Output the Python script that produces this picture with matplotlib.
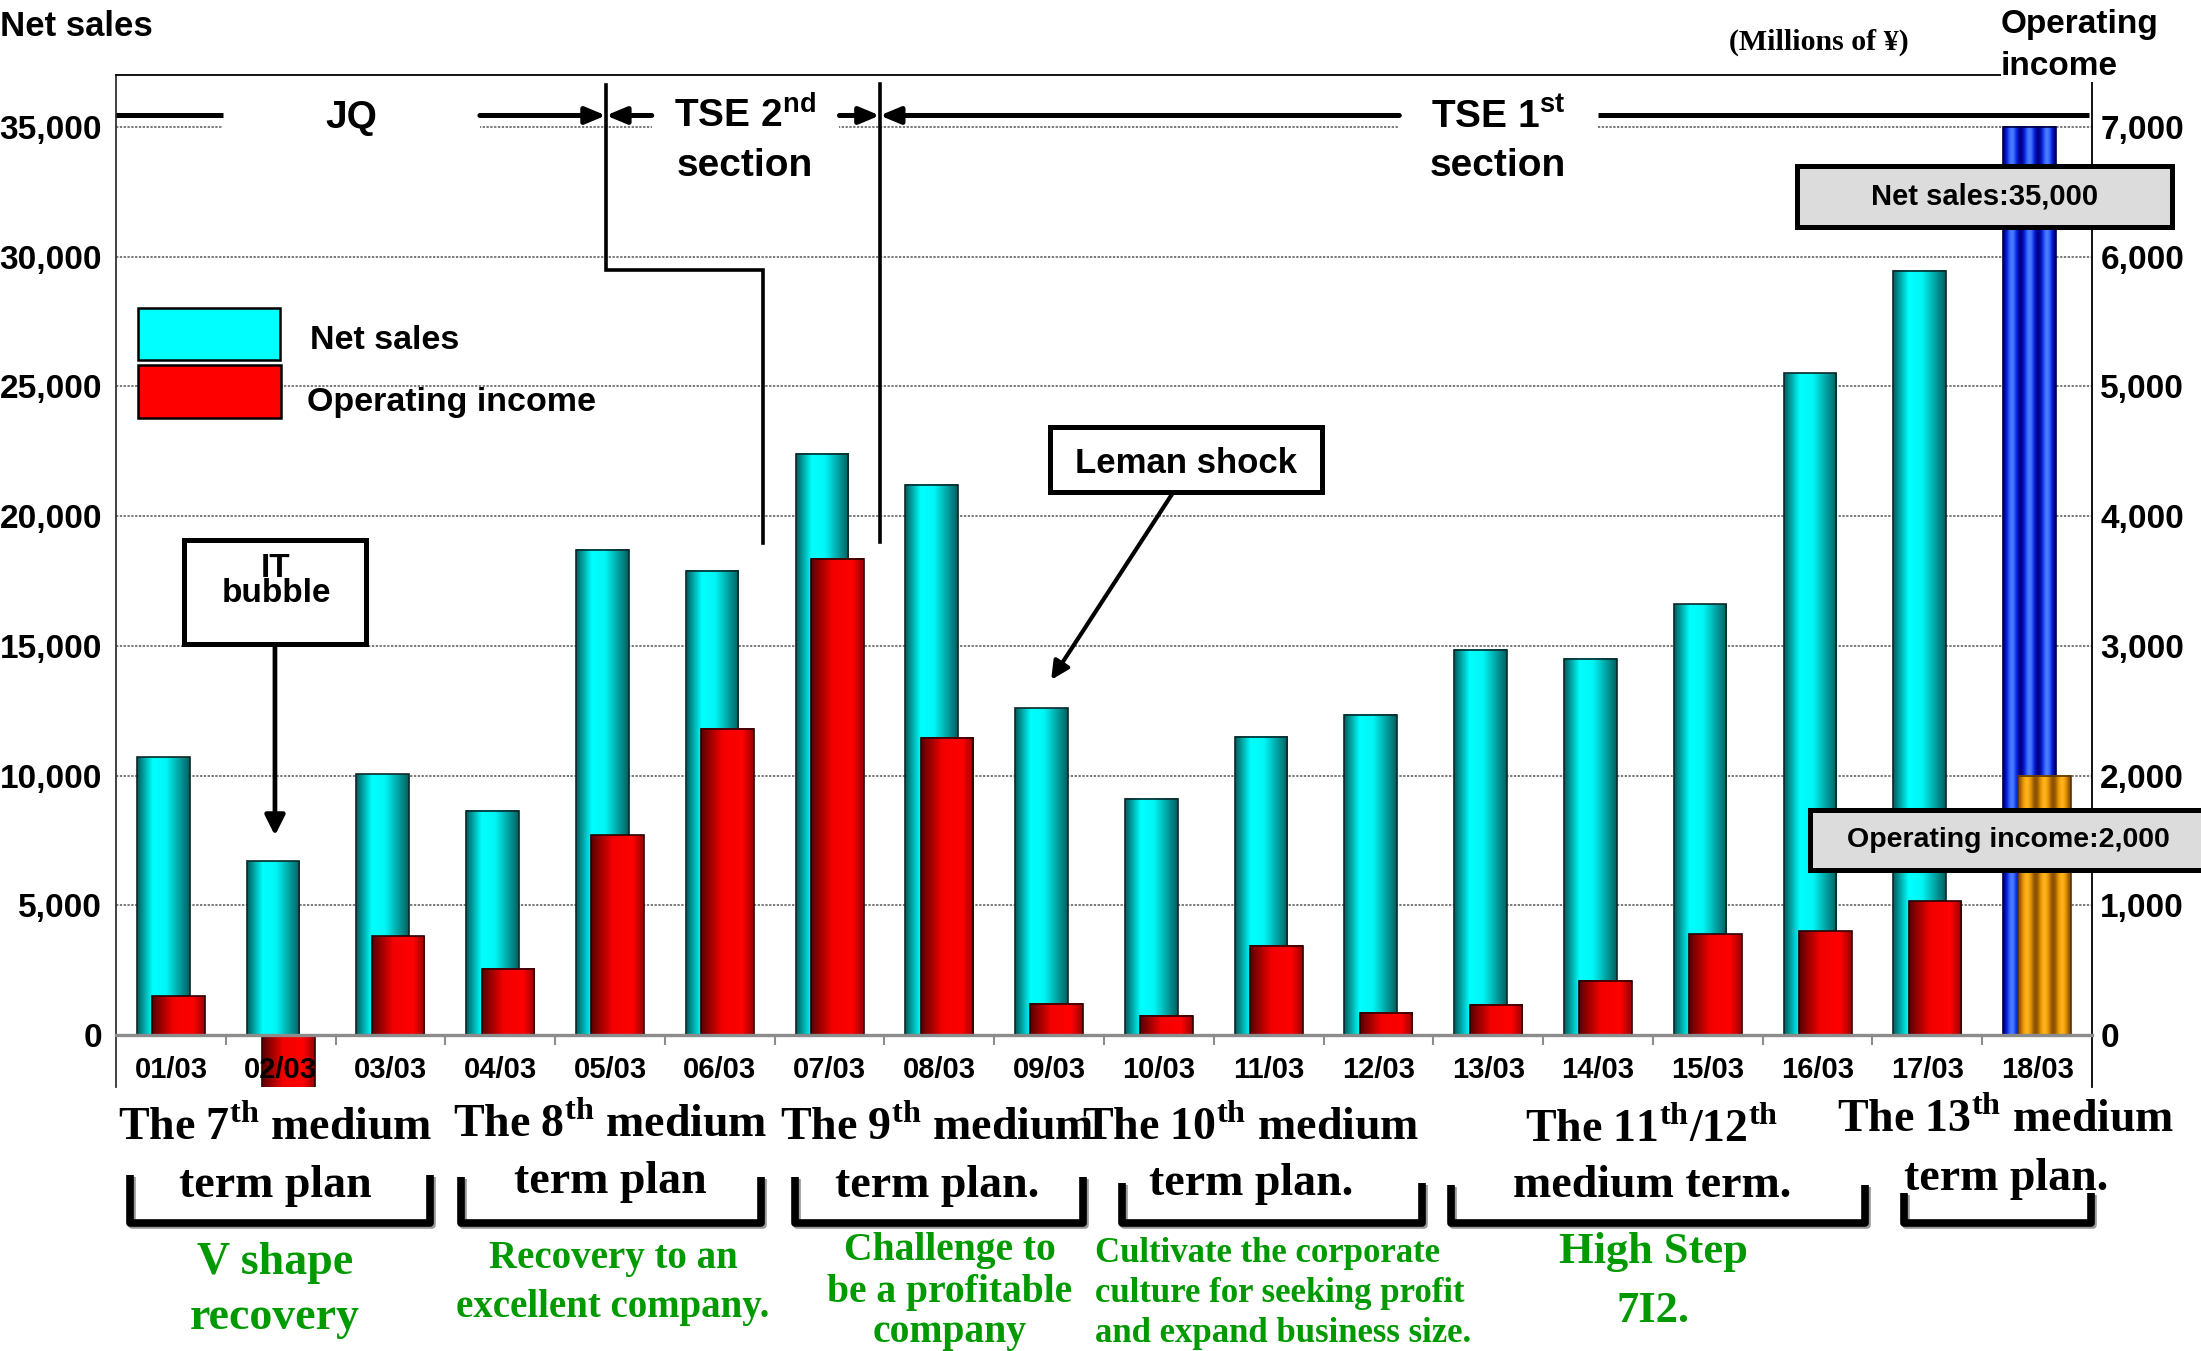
import numpy as np
import matplotlib
matplotlib.use('Agg')
import matplotlib.pyplot as plt
from matplotlib import patheffects
from matplotlib.colors import LinearSegmentedColormap
from matplotlib.lines import Line2D
from matplotlib.patches import Rectangle
from matplotlib.ticker import StrMethodFormatter
from matplotlib.transforms import Affine2D

W, H = 2201, 1351

# fiscal years (year/month of closing); the last one is the plan
years = ['01/03', '02/03', '03/03', '04/03', '05/03', '06/03', '07/03', '08/03', '09/03',
         '10/03', '11/03', '12/03', '13/03', '14/03', '15/03', '16/03', '17/03', '18/03']
net_sales = [10700, 6700, 10050, 8650, 18700, 17900, 22400, 21200, 12600,
             9100, 11500, 12350, 14850, 14500, 16600, 25500, 29450, 35000]
op_income = [300, -450, 760, 510, 1540, 2360, 3670, 2290, 240,
             150, 690, 170, 235, 417, 776, 800, 1030, 2000]

sales_ticks = list(range(0, 35001, 5000))
income_ticks = list(range(0, 7001, 1000))

plan_titles = [r'The 7$^{\mathbf{th}}$ medium', r'The 8$^{\mathbf{th}}$ medium',
               r'The 9$^{\mathbf{th}}$ medium', r'The 10$^{\mathbf{th}}$ medium',
               r'The 11$^{\mathbf{th}}$/12$^{\mathbf{th}}$', r'The 13$^{\mathbf{th}}$ medium']
plan_second = ['term plan', 'term plan', 'term plan.', 'term plan.', 'medium term.', 'term plan.']
plan_slogans = [['V shape', 'recovery'],
                ['Recovery to an', 'excellent company.'],
                ['Challenge to', 'be a profitable', 'company'],
                ['Cultivate the corporate', 'culture for seeking profit', 'and expand business size.'],
                ['High Step', '7I2.'],
                []]

plt.rcParams['font.family'] = ['Liberation Sans', 'DejaVu Sans']
plt.rcParams['font.weight'] = 'bold'
plt.rcParams['mathtext.fontset'] = 'custom'
plt.rcParams['mathtext.sf'] = 'Liberation Sans:bold'
plt.rcParams['mathtext.bf'] = 'Liberation Serif:bold'

SERIF = ['Liberation Serif', 'DejaVu Serif']
GREEN = '#009900'

fig = plt.figure(figsize=(W / 100, H / 100), dpi=100)
ax1 = fig.add_axes([116 / W, 1 - 1087 / H, (2092 - 116) / W, (1087 - 75) / H])
ax2 = ax1.twinx()
tr = ax1.transData
# pixel positions measured from the top-left corner of the canvas
pt = Affine2D().scale(1 / W, -1 / H).translate(0, 1) + fig.transFigure

# colour ramps for the cylinder look
cyan_cmap = LinearSegmentedColormap.from_list(
    'cyl_cyan', [(0, '#005c5c'), (0.3, '#00ffff'), (0.55, '#00f6f6'), (1, '#005e5e')])
red_cmap = LinearSegmentedColormap.from_list(
    'cyl_red', [(0, '#580000'), (0.4, '#f20000'), (0.78, '#ff0000'), (1, '#980000')])
blue_cmap = LinearSegmentedColormap.from_list('str_blue', ['#00008a', '#0a2ee8', '#4a7cff'])
orange_cmap = LinearSegmentedColormap.from_list('str_orange', ['#8c5200', '#d88a00', '#ffb21a'])

t = np.linspace(0, 1, 256)
stripes = 0.5 - 0.5 * np.cos(2 * np.pi * 3 * t)


def shade(ax, bars, cmaps, profiles):
    for b, cmap, prof in zip(bars, cmaps, profiles):
        x0, y0 = b.get_x(), b.get_y()
        ax.imshow(prof[None, :], cmap=cmap, vmin=0, vmax=1, aspect='auto',
                  interpolation='bilinear', zorder=1.9,
                  extent=(x0, x0 + b.get_width(), y0, y0 + b.get_height()))


x = np.arange(len(years))
n = len(years)
bw, off = 0.48, 0.07

sales_bars = ax1.bar(x - off, net_sales, bw, facecolor='none', edgecolor='#0b2828', lw=1.2, zorder=2)
income_bars = ax2.bar(x + off, op_income, bw, facecolor='none', edgecolor='#2a0000', lw=1.2, zorder=2)
sales_bars[-1].set_edgecolor('#00003c')
income_bars[-1].set_edgecolor('#5a3400')

shade(ax1, sales_bars, [cyan_cmap] * (n - 1) + [blue_cmap], [t] * (n - 1) + [stripes])
shade(ax2, income_bars, [red_cmap] * (n - 1) + [orange_cmap], [t] * (n - 1) + [stripes])

# axes, ticks, grid
ax1.set_xlim(-0.5, 17.5)
ax1.set_ylim(-2000, 37000)
ax2.set_ylim(-400, 7400)

ax1.set_yticks(sales_ticks)
ax2.set_yticks(income_ticks)
ax1.yaxis.set_major_formatter(StrMethodFormatter('{x:,.0f}'))
ax2.yaxis.set_major_formatter(StrMethodFormatter('{x:,.0f}'))
ax1.tick_params(axis='y', length=0, pad=10, labelsize=24)
ax2.tick_params(axis='y', length=0, pad=6, labelsize=24)

# year labels sit on top of the bars (the 02/03 loss reaches into them)
ax2.set_axisbelow(False)
ax2.xaxis.set_visible(True)
ax2.set_xticks(np.arange(0.5, n - 1, 1))
ax2.set_xticks(x, years, minor=True)
ax2.tick_params(axis='x', which='major', length=7, width=1.5, color='#8c8c8c',
                direction='out', labelbottom=False)
ax2.tick_params(axis='x', which='minor', length=0, pad=15, labelsize=21)
ax1.tick_params(axis='x', which='both', bottom=False, labelbottom=False)

ax1.set_axisbelow(True)
ax1.yaxis.grid(True, linestyle=(0, (1.5, 1)), color='#555555', lw=1.1)

for s in ['top', 'right', 'bottom']:
    ax1.spines[s].set_visible(False)
ax1.spines['left'].set_color('#333333')
ax1.spines['left'].set_linewidth(1.3)
ax2.spines['left'].set_visible(False)
ax2.spines['right'].set_linewidth(1.3)
ax2.spines['top'].set_linewidth(1.3)
ax2.spines['bottom'].set_position(('data', 0))
ax2.spines['bottom'].set_color('#8c8c8c')
ax2.spines['bottom'].set_linewidth(2.4)


# in-chart annotations, placed in net-sales units
def hline(x0, x1, y, lw=3.6):
    ax2.plot([x0, x1], [y, y], color='black', lw=lw, solid_capstyle='butt',
             transform=tr, clip_on=False, zorder=7)


def vpath(xs, ys, lw=2.6):
    ax2.plot(xs, ys, color='black', lw=lw, solid_joinstyle='miter',
             transform=tr, clip_on=False, zorder=7)


def arrow(x0, y0, x1, y1, lw=3.6, scale=20, head='head_length=0.6,head_width=0.25'):
    ax2.annotate('', xy=(x1, y1), xytext=(x0, y0), xycoords=tr, textcoords=tr,
                 annotation_clip=False, zorder=7,
                 arrowprops=dict(arrowstyle='-|>,' + head, mutation_scale=scale,
                                 lw=lw, color='black', shrinkA=0, shrinkB=0))


def box(x0, x1, y0, y1, face='white', z=8):
    ax2.add_patch(Rectangle((x0, y0), x1 - x0, y1 - y0, transform=tr, facecolor=face,
                            edgecolor='black', lw=3.6, clip_on=False, zorder=z))


def label(xv, yv, s, size, va='baseline', ha='center', z=9):
    ax2.text(xv, yv, s, transform=tr, ha=ha, va=va, fontsize=size,
             fontweight='bold', zorder=z)


# listing market bands along the top
band_y = 35440
for g0, g1 in [(0.474, 2.815), (4.38, 6.09), (11.19, 12.997)]:
    ax2.add_patch(Rectangle((g0, 34750), g1 - g0, 500, transform=tr,
                            facecolor='white', edgecolor='none', zorder=5))
hline(-0.5, 0.474, band_y)
arrow(2.815, band_y, 3.963, band_y)
arrow(4.38, band_y, 3.963, band_y)
arrow(6.09, band_y, 6.458, band_y)
arrow(11.19, band_y, 6.458, band_y)
hline(12.997, 17.47, band_y)
vpath([3.963, 3.963, 5.398, 5.398], [36600, 29487, 29487, 18970])
vpath([6.458, 6.458], [36650, 18990])

label(1.64, 34960, 'JQ', 28)
label(5.23, 34960, r'TSE 2$^{\mathsf{nd}}$', 28)
label(5.23, 33090, 'section', 28)
label(12.09, 34960, r'TSE 1$^{\mathsf{st}}$', 28)
label(12.09, 33090, 'section', 28)

# legend
ax2.add_patch(Rectangle((-0.297, 26014), 1.291, 1995, transform=tr, facecolor='#00ffff',
                        edgecolor='black', lw=1.8, clip_on=False, zorder=8))
ax2.add_patch(Rectangle((-0.297, 23765), 1.297, 2056, transform=tr, facecolor='#ff0000',
                        edgecolor='black', lw=1.8, clip_on=False, zorder=8))
label(1.267, 26780, 'Net sales', 24.5, va='center', ha='left')
label(1.237, 24380, 'Operating income', 24.5, va='center', ha='left')

# events
box(0.119, 1.777, 15053, 19066)
label(0.95, 17650, 'IT', 24)
label(0.96, 16690, 'bubble', 24)
arrow(0.948, 15053, 0.948, 7690, lw=3.4, head='head_length=0.6,head_width=0.3')

box(8.006, 10.49, 20920, 23430)
label(9.25, 21643, 'Leman shock', 25)
arrow(9.131, 20920, 8.019, 13692, lw=3.0, scale=18, head='head_length=0.6,head_width=0.3')

# plan values for the last year
box(14.81, 18.23, 31142, 33496, face='#dcdcdc', z=10)
label(16.52, 32320, f'Net sales:{net_sales[-1]:,}', 21, va='center', z=11)
box(14.93, 18.6, 6377, 8692, face='#dcdcdc', z=10)
label(16.74, 7534, f'Operating income:{op_income[-1]:,}', 20.5, va='center', z=11)

# titles around the frame
fig.text(0, 26, 'Net sales', transform=pt, ha='left', va='center', fontsize=25)
fig.text(1819, 42, '(Millions of ¥)', transform=pt, ha='center', va='center',
         fontsize=21.5, family=SERIF)
fig.text(2001, 33, 'Operating', transform=pt, ha='left', va='baseline', fontsize=24,
         bbox=dict(facecolor='white', edgecolor='none', pad=0))
fig.text(2001, 75, 'income', transform=pt, ha='left', va='baseline', fontsize=24,
         bbox=dict(facecolor='white', edgecolor='none', pad=0))

# medium term plans below the axis
title_pos = [(275, 1140, 1197), (610, 1137, 1193), (937, 1140, 1197),
             (1251, 1140, 1195), (1652, 1142, 1197), (2006, 1132, 1190)]
brackets = [(130, 430, 1175), (461, 761, 1177), (795, 1083, 1177),
            (1122, 1422, 1183), (1451, 1865, 1185), (1904, 2091, 1193)]
slogan_pos = [(275, [1274, 1329], 33, 'center'),
              (613, [1268, 1317], 28, 'center'),
              (950, [1260, 1302, 1342], 28.5, 'center'),
              (1095, [1262, 1302, 1342], 25, 'left'),
              (1653, [1263, 1322], 32, 'center'),
              (0, [], 0, 'center')]

shadow = [patheffects.SimpleLineShadow(offset=(1.5, -1.5), shadow_color='#9a9a9a', alpha=1),
          patheffects.Normal()]
for title, second, (cx, b1, b2), (x0, x1, top), slogan, (sx, sys_, ssize, sha) in zip(
        plan_titles, plan_second, title_pos, brackets, plan_slogans, slogan_pos):
    fig.text(cx, b1, title, transform=pt, ha='center', va='baseline', fontsize=33, family=SERIF)
    fig.text(cx, b2, second, transform=pt, ha='center', va='baseline', fontsize=33, family=SERIF)
    fig.add_artist(Line2D([x0, x0, x1, x1], [top, 1223, 1223, top], transform=pt,
                          color='black', lw=5.5, solid_joinstyle='round',
                          solid_capstyle='butt', path_effects=shadow))
    for line, yy in zip(slogan, sys_):
        fig.text(sx, yy, line, transform=pt, ha=sha, va='baseline', fontsize=ssize,
                 family=SERIF, color=GREEN)

fig.savefig('out.png', dpi=100, facecolor='white')
